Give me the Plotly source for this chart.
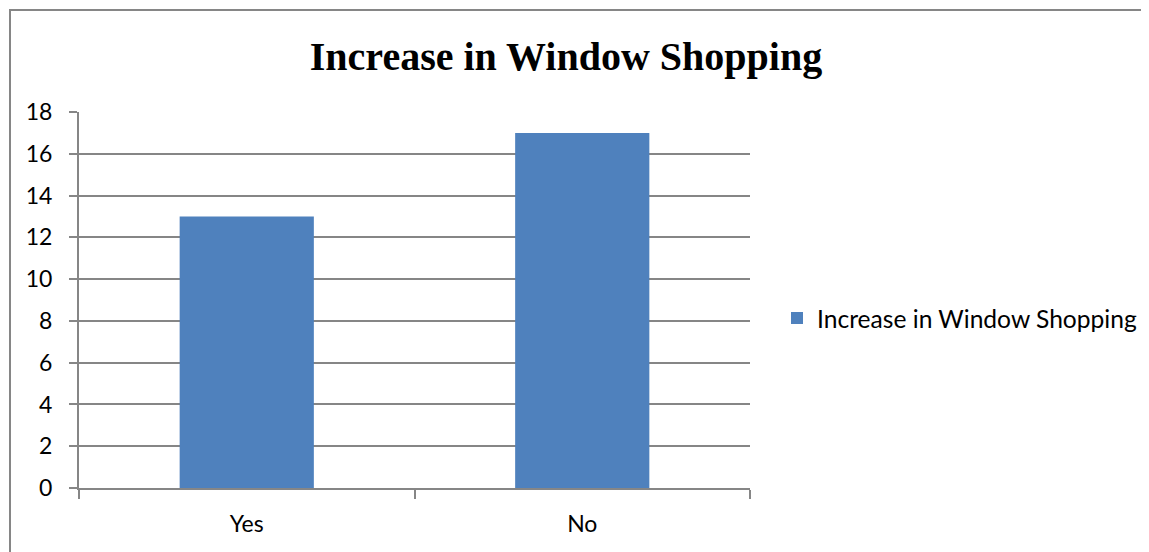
import plotly.graph_objects as go

categories = ["Yes", "No"]
values = [13, 17]
series_name = "Increase in Window Shopping"
title_text = "Increase in Window Shopping"

OFF = 8  # browser default body margin
W, H = 1149 - OFF, 552 - OFF
L, R, T, B = 79 - OFF, 750 - OFF, 112 - OFF, 488 - OFF  # plot area in px

def px_x(px):
    return (px - OFF - L) / (R - L)

def px_y(py):
    return (B - (py - OFF)) / (B - T)

fig = go.Figure()
fig.add_trace(go.Bar(
    x=categories, y=values, name=series_name,
    marker=dict(color="#4F81BD", line=dict(width=0)),
    showlegend=True,
))

fig.update_layout(
    width=W, height=H,
    margin=dict(l=L, r=W - R, t=T, b=H - B, autoexpand=False),
    paper_bgcolor="white", plot_bgcolor="white",
    bargap=0.6,
    title=dict(text="<b>" + title_text + "</b>", x=(566 - OFF) / W, xanchor="center",
               y=1 - (56 - OFF) / H, yanchor="middle",
               font=dict(family="Liberation Serif", size=40, color="black")),
    showlegend=True,
    legend=dict(x=px_x(777), xanchor="left", y=px_y(318), yanchor="middle",
                font=dict(family="Lato", size=24.6, color="black"),
                itemwidth=30, bgcolor="rgba(0,0,0,0)"),
    xaxis=dict(showgrid=False, ticks="outside", tickson="boundaries", ticklen=9,
               tickcolor="#868686", tickwidth=2, showline=True, linecolor="#868686", linewidth=2,
               tickfont=dict(family="Lato", size=23, color="black"),
               ticklabelstandoff=14, range=[-0.5, 1.5]),
    yaxis=dict(range=[0, 18], dtick=2, showgrid=True, gridcolor="#868686", gridwidth=2,
               ticks="outside", ticklen=8, tickcolor="#868686", tickwidth=2,
               showline=True, linecolor="#868686", linewidth=2, zeroline=False,
               tickfont=dict(family="Lato", size=23, color="black"), ticklabelstandoff=12),
    shapes=[dict(type="rect", xref="paper", yref="paper",
                 x0=px_x(10), x1=px_x(1170), y0=px_y(10), y1=px_y(580),
                 line=dict(color="#868686", width=2), fillcolor="rgba(0,0,0,0)", layer="below")],
)

fig.write_html("out.html")
